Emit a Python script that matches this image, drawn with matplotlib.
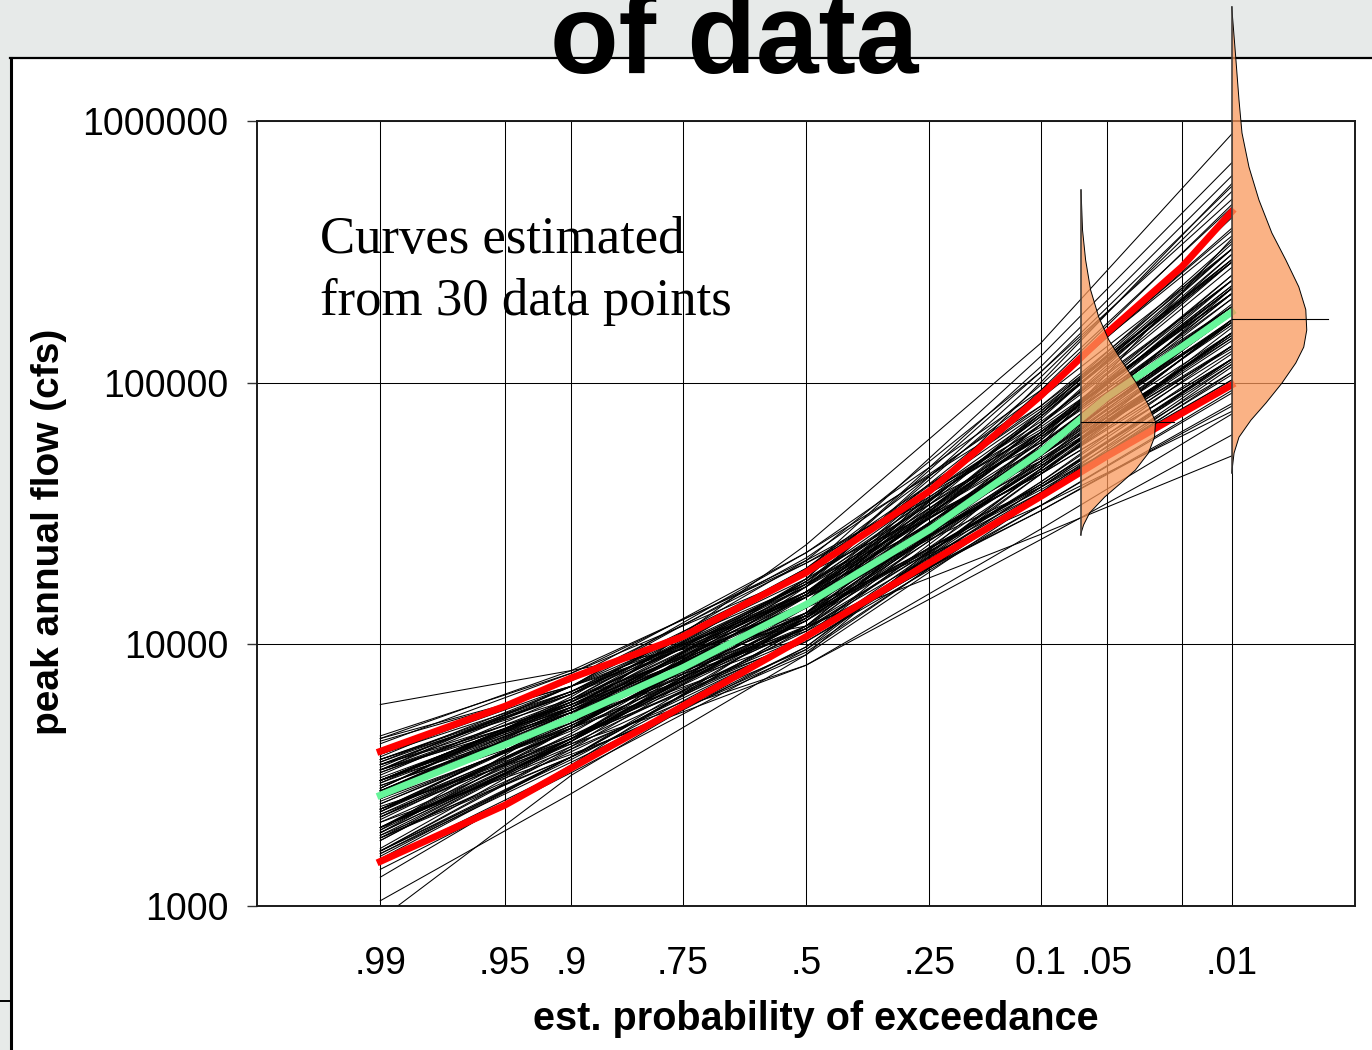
import math
import numpy as np
import matplotlib
matplotlib.use("Agg")
import matplotlib.pyplot as plt
from matplotlib.lines import Line2D
from matplotlib.patches import Rectangle
from matplotlib.ticker import NullLocator
from statistics import NormalDist

# ---------------------------------------------------------------------------
# Data
# ---------------------------------------------------------------------------
# exceedance probabilities at which every fitted frequency curve is evaluated
curve_exceedance = [0.99, 0.90, 0.50, 0.10, 0.01]

# log10 of peak annual flow (cfs) for each curve fitted to a 30-point sample
curve_log10_flow = [
    [3.29, 3.73, 4.38, 5.15, 5.95], [3.32, 3.58, 3.92, 4.44, 4.88],
    [3.57, 3.87, 4.35, 4.91, 5.46], [3.02, 3.43, 3.96, 4.72, 5.36],
    [3.45, 3.80, 4.32, 5.04, 5.70], [3.30, 3.60, 3.98, 4.57, 5.07],
    [3.64, 3.90, 4.31, 4.77, 5.23], [3.20, 3.55, 3.99, 4.65, 5.21],
    [3.50, 3.81, 4.29, 4.90, 5.47], [3.44, 3.68, 4.01, 4.53, 4.97],
    [3.55, 3.84, 4.28, 4.82, 5.34], [3.30, 3.61, 4.02, 4.62, 5.14],
    [3.41, 3.76, 4.28, 5.10, 5.84], [3.35, 3.64, 4.02, 4.60, 5.09],
    [3.65, 3.89, 4.27, 4.70, 5.13], [3.21, 3.56, 4.03, 4.70, 5.27],
    [3.47, 3.79, 4.27, 4.89, 5.47], [3.48, 3.71, 4.03, 4.53, 4.96],
    [3.54, 3.82, 4.25, 4.79, 5.29], [3.30, 3.62, 4.05, 4.66, 5.19],
    [3.36, 3.72, 4.25, 5.06, 5.79], [3.41, 3.68, 4.06, 4.62, 5.11],
    [3.48, 3.78, 4.24, 4.84, 5.39], [3.21, 3.57, 4.06, 4.75, 5.34],
    [3.44, 3.76, 4.24, 4.88, 5.46], [3.54, 3.75, 4.06, 4.51, 4.91],
    [3.54, 3.81, 4.23, 4.75, 5.23], [3.32, 3.64, 4.07, 4.69, 5.23],
    [3.30, 3.68, 4.23, 4.99, 5.67], [3.44, 3.70, 4.07, 4.61, 5.09],
    [3.48, 3.78, 4.23, 4.81, 5.34], [3.19, 3.57, 4.07, 4.79, 5.41],
    [3.41, 3.74, 4.22, 4.87, 5.46], [3.37, 3.67, 4.09, 4.67, 5.19],
    [3.55, 3.81, 4.22, 4.72, 5.19], [3.30, 3.63, 4.09, 4.72, 5.27],
    [3.22, 3.63, 4.22, 5.02, 5.73], [3.46, 3.72, 4.09, 4.61, 5.08],
    [3.48, 3.77, 4.20, 4.77, 5.29], [3.18, 3.57, 4.10, 4.84, 5.49],
    [3.37, 3.71, 4.20, 4.87, 5.47], [3.40, 3.69, 4.10, 4.68, 5.19],
    [3.56, 3.82, 4.20, 4.69, 5.14], [3.30, 3.64, 4.10, 4.74, 5.30],
    [3.44, 3.75, 4.20, 4.81, 5.36], [3.48, 3.74, 4.10, 4.61, 5.07],
    [3.48, 3.77, 4.19, 4.74, 5.24], [3.11, 3.54, 4.11, 5.00, 5.76],
    [3.34, 3.69, 4.19, 4.87, 5.49], [3.42, 3.71, 4.11, 4.68, 5.19],
    [3.58, 3.82, 4.19, 4.65, 5.09], [3.29, 3.64, 4.11, 4.78, 5.36],
    [3.43, 3.74, 4.19, 4.80, 5.36], [3.52, 3.76, 4.11, 4.60, 5.04],
    [3.48, 3.76, 4.18, 4.72, 5.22], [3.39, 3.69, 4.12, 4.73, 5.26],
    [3.30, 3.66, 4.18, 4.88, 5.51], [3.44, 3.72, 4.12, 4.68, 5.18],
    [3.63, 3.84, 4.18, 4.60, 4.99], [3.28, 3.63, 4.12, 4.81, 5.41],
    [3.41, 3.72, 4.18, 4.80, 5.36], [3.56, 3.79, 4.12, 4.59, 5.01],
    [3.49, 3.76, 4.16, 4.70, 5.18], [3.39, 3.70, 4.14, 4.75, 5.29],
    [3.26, 3.64, 4.16, 4.89, 5.54], [3.47, 3.74, 4.14, 4.68, 5.17],
    [3.44, 3.74, 4.16, 4.74, 5.27], [3.27, 3.63, 4.14, 4.84, 5.46],
    [3.37, 3.70, 4.16, 4.80, 5.37], [3.64, 3.84, 4.14, 4.53, 4.89],
    [3.51, 3.77, 4.16, 4.68, 5.16], [3.36, 3.68, 4.14, 4.76, 5.32],
    [3.21, 3.61, 4.16, 4.97, 5.68], [3.48, 3.75, 4.14, 4.66, 5.14],
    [3.44, 3.73, 4.15, 4.72, 5.24], [3.25, 3.63, 4.15, 4.88, 5.53],
    [3.34, 3.68, 4.15, 4.81, 5.39], [3.43, 3.73, 4.15, 4.73, 5.26],
    [3.52, 3.78, 4.15, 4.66, 5.12], [3.35, 3.68, 4.15, 4.80, 5.37],
    [3.77, 3.90, 4.07, 4.42, 4.72], [2.95, 3.50, 4.03, 4.76, 5.55],
    [3.38, 3.62, 3.92, 4.40, 4.80], [3.58, 3.86, 4.31, 4.83, 5.34],
    [3.17, 3.53, 3.99, 4.67, 5.24], [3.45, 3.78, 4.27, 4.91, 5.51],
    [3.37, 3.65, 4.03, 4.60, 5.09], [3.58, 3.84, 4.23, 4.71, 5.17],
    [3.20, 3.57, 4.07, 4.78, 5.39], [3.52, 3.84, 4.35, 4.97, 5.56],
    [3.27, 3.57, 3.96, 4.56, 5.06], [3.25, 3.64, 4.19, 4.95, 5.63],
    [3.54, 3.77, 4.11, 4.58, 5.01], [3.52, 3.82, 4.28, 4.85, 5.39],
    [3.26, 3.59, 4.02, 4.65, 5.19], [3.36, 3.72, 4.24, 4.95, 5.59],
    [3.46, 3.71, 4.06, 4.58, 5.03], [3.51, 3.79, 4.20, 4.74, 5.23],
    [3.28, 3.63, 4.10, 4.76, 5.34], [3.62, 3.89, 4.32, 4.81, 5.29],
    [3.14, 3.51, 3.98, 4.67, 5.24], [3.33, 3.68, 4.16, 4.84, 5.44],
    [3.48, 3.75, 4.14, 4.66, 5.14], [3.28, 3.68, 4.25, 5.04, 5.75],
    [3.52, 3.74, 4.05, 4.51, 4.92], [3.48, 3.78, 4.22, 4.79, 5.32],
    [3.34, 3.65, 4.09, 4.70, 5.23], [3.45, 3.79, 4.29, 4.96, 5.58],
    [3.37, 3.64, 4.01, 4.56, 5.04], [3.56, 3.81, 4.18, 4.65, 5.09],
    [3.21, 3.60, 4.12, 4.86, 5.51], [3.53, 3.84, 4.33, 4.94, 5.51],
    [3.26, 3.57, 3.97, 4.58, 5.09],
]

# expected curve and 90% confidence limits (cfs)
band_exceedance = [0.99, 0.95, 0.90, 0.75, 0.50, 0.25, 0.10, 0.05, 0.02, 0.01]
median_flow = [2650, 4130, 5240, 8130, 14200, 27400, 54300, 88100, 137000, 186000]
upper_flow = [3900, 5800, 7450, 10700, 18800, 38500, 89000, 155000, 277000, 450000]
lower_flow = [1480, 2430, 3370, 5800, 10700, 20500, 36700, 52400, 76400, 98000]

# axis ticks
grid_exceedance = [0.99, 0.95, 0.90, 0.75, 0.50, 0.25, 0.10, 0.05, 0.02, 0.01]
grid_labels = [".99", ".95", ".9", ".75", ".5", ".25", "0.1", ".05", "", ".01"]
flow_ticks = [1000, 10000, 100000, 1000000]
flow_labels = ["1000", "10000", "100000", "1000000"]

# sampling distribution of the estimated 0.05 quantile (relative density)
q05_anchor = 0.0668
q05_flow = [544500, 382800, 294400, 225900, 178200, 145500, 122200, 99800,
            82200, 70800, 61900, 53800, 46300, 41400, 36600, 31800, 28600, 26200]
q05_density = [0.007, 0.027, 0.068, 0.135, 0.243, 0.378, 0.541, 0.743,
               0.905, 1.0, 0.986, 0.905, 0.730, 0.541, 0.324, 0.122, 0.041, 0.0]
q05_mode = 70800

# sampling distribution of the estimated 0.01 quantile (relative density)
q01_anchor = 0.01
q01_flow = [2729000, 1758000, 1202000, 899500, 666800, 498900, 373300, 294400,
            232300, 190100, 158900, 136800, 118900, 99500, 83600, 71900,
            61900, 53800, 45200]
q01_density = [0.0, 0.053, 0.097, 0.137, 0.230, 0.363, 0.535, 0.721, 0.894,
               0.987, 1.0, 0.960, 0.854, 0.668, 0.456, 0.256, 0.097, 0.031, 0.0]
q01_mode = 175000

# ---------------------------------------------------------------------------
# Normal-probability scale: exceedance probability <-> standard normal deviate
# ---------------------------------------------------------------------------
_nd = NormalDist()


def prob_to_z(p):
    arr = np.asarray(p, dtype=float)
    flat = np.atleast_1d(arr).ravel()
    out = np.full(flat.shape, np.nan)
    ok = np.isfinite(flat)
    clipped = np.clip(flat[ok], 1e-12, 1 - 1e-12)
    out[ok] = [_nd.inv_cdf(float(q)) for q in clipped]
    return out.reshape(arr.shape)


def z_to_prob(z):
    arr = np.asarray(z, dtype=float)
    flat = np.atleast_1d(arr).ravel()
    out = np.array([0.5 * math.erfc(-v / math.sqrt(2.0)) for v in flat],
                   dtype=float)
    return out.reshape(arr.shape)


# ---------------------------------------------------------------------------
# Figure
# ---------------------------------------------------------------------------
plt.rcParams["font.family"] = "Liberation Sans"
W, H = 1372, 1050
fig = plt.figure(figsize=(W / 100, H / 100), dpi=100)
fig.patch.set_facecolor("#E7EAE9")

# slide content box
fig.add_artist(Rectangle((10 / W, 0), 1 - 10 / W, 1 - 58 / H,
                         transform=fig.transFigure, facecolor="white",
                         edgecolor="none", zorder=-5))
fig.add_artist(Line2D([10 / W, 1], [1 - 58 / H, 1 - 58 / H],
                      transform=fig.transFigure, color="black", lw=1.6,
                      zorder=-4))
fig.add_artist(Line2D([10.5 / W, 10.5 / W], [0, 1 - 58 / H],
                      transform=fig.transFigure, color="black", lw=2.2,
                      zorder=-4))
fig.add_artist(Line2D([0, 10 / W], [1 - 1001 / H, 1 - 1001 / H],
                      transform=fig.transFigure, color="black", lw=1.4,
                      zorder=-4))

fig.text(734 / W, 1 - 73 / H, "of data", ha="center", va="baseline",
         fontsize=81, fontweight="bold")

ax = fig.add_axes([257 / W, 1 - 906 / H, (1355 - 257) / W, (906 - 121) / H])
ax.set_xscale("function", functions=(prob_to_z, z_to_prob))
ax.set_yscale("log")

for row in curve_log10_flow:
    ax.plot(curve_exceedance, np.power(10.0, row), color="black", lw=0.75,
            zorder=2)

ax.plot(band_exceedance, upper_flow, color="#FF0000", lw=5,
        solid_capstyle="projecting", zorder=3)
ax.plot(band_exceedance, lower_flow, color="#FF0000", lw=5,
        solid_capstyle="projecting", zorder=3)
ax.plot(band_exceedance, median_flow, color="#66F59A", lw=5,
        solid_capstyle="projecting", zorder=3)

ax.set_xticks(grid_exceedance, grid_labels)
ax.xaxis.set_minor_locator(NullLocator())
ax.set_yticks(flow_ticks, flow_labels)
ax.yaxis.set_minor_locator(NullLocator())
ax.grid(True, which="major", color="black", lw=0.75)
ax.tick_params(axis="x", length=0, pad=29, labelsize=27)
ax.tick_params(axis="y", length=7, width=1, pad=13.5, labelsize=27,
               direction="out", color="#333333")
for sp in ax.spines.values():
    sp.set_linewidth(1.4)
    sp.set_color("#1a1a1a")

# quantile sampling distributions, drawn on a normal-deviate overlay whose
# x axis runs the same way as the probability axis (high exceedance at left)
ax2 = ax.twiny()
DENS_W = 0.41
orange = "#F9975A"
for anchor, flow, dens, mode, tick_len in (
        (q05_anchor, q05_flow, q05_density, q05_mode, 0.51),
        (q01_anchor, q01_flow, q01_density, q01_mode, 0.525)):
    z0 = float(prob_to_z(anchor))
    edge = z0 - DENS_W * np.asarray(dens)
    ax2.fill_betweenx(flow, z0, edge, facecolor=orange, alpha=0.74,
                      edgecolor="none", clip_on=False, zorder=1)
    ax2.plot(edge, flow, color="black", lw=0.7, clip_on=False, zorder=2)
    ax2.plot([z0, z0], [min(flow), max(flow)], color="#3a3a3a", lw=1.1,
             clip_on=False, zorder=2)
    ax2.plot([z0, z0 - tick_len], [mode, mode], color="black", lw=0.8,
             clip_on=False, zorder=2)
ax2.set_xlim(3, -3)
ax2.axis("off")

ax.set_xlim(float(z_to_prob(3.0)), float(z_to_prob(-3.0)))
ax.set_ylim(1000, 1000000)

fig.text(320 / W, 1 - 253 / H, "Curves estimated", family="Liberation Serif",
         fontsize=38, va="baseline", ha="left")
fig.text(320 / W, 1 - 315 / H, "from 30 data points", family="Liberation Serif",
         fontsize=38, va="baseline", ha="left")

fig.text(49 / W, 1 - 532 / H, "peak annual flow (cfs)", rotation=90,
         ha="center", va="center", fontsize=28, fontweight="bold")
fig.text(816 / W, 1 - 1030 / H, "est. probability of exceedance",
         ha="center", va="baseline", fontsize=28.5, fontweight="bold")

fig.savefig("out.png", dpi=100, facecolor=fig.get_facecolor())
